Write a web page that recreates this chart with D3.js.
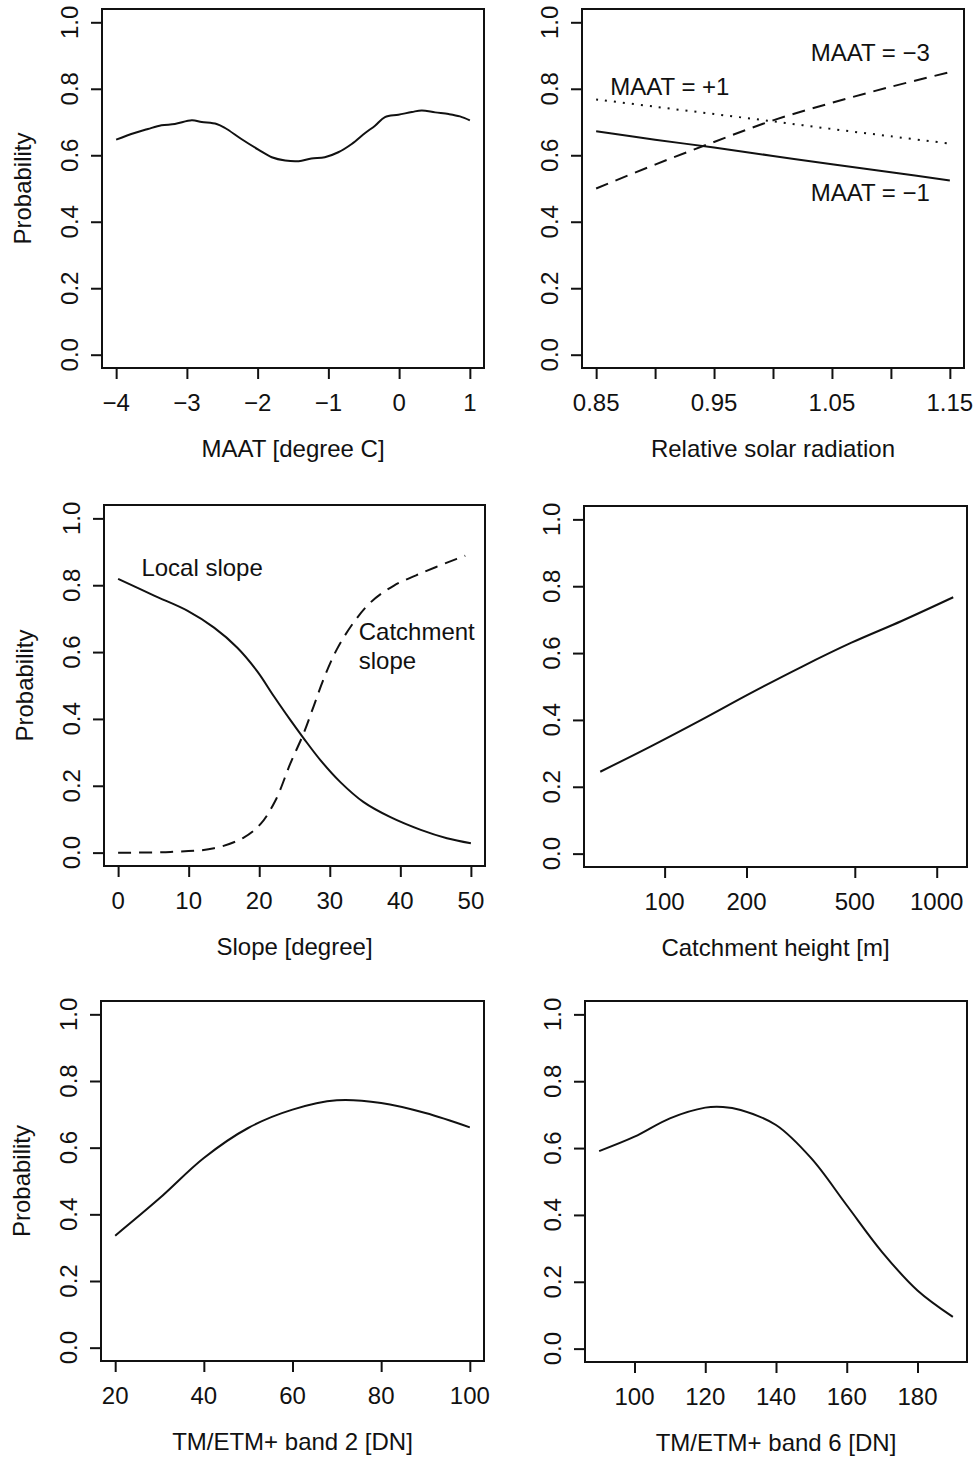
<!DOCTYPE html>
<html><head><meta charset="utf-8">
<script src="https://cdn.jsdelivr.net/npm/d3@7"></script>
<style>
html,body{margin:0;padding:0;background:#fff;}
svg text{font-family:"Liberation Sans",Arial,Helvetica,sans-serif;fill:#111;}
</style></head>
<body>
<svg id="chart" width="976" height="1458"></svg>
<script>
// ---------- data ----------
const yTicks = [0, 0.2, 0.4, 0.6, 0.8, 1.0];
const yTickLabels = ["0.0", "0.2", "0.4", "0.6", "0.8", "1.0"];

// Panel 1: MAAT
const maatX = [-4.00,-3.74,-3.55,-3.36,-3.17,-2.93,-2.79,-2.58,-2.46,-2.23,-1.99,-1.80,-1.61,-1.42,-1.24,-1.05,-0.86,-0.67,-0.48,-0.34,-0.20,-0.01,0.18,0.32,0.51,0.70,0.86,1.00];
const maatP = [0.647,0.667,0.679,0.690,0.694,0.705,0.700,0.694,0.682,0.649,0.617,0.594,0.584,0.582,0.590,0.594,0.609,0.634,0.667,0.689,0.715,0.722,0.730,0.735,0.729,0.724,0.717,0.705];
const maatTicks = [-4, -3, -2, -1, 0, 1];
const maatTickLabels = ["\u22124", "\u22123", "\u22122", "\u22121", "0", "1"];

// Panel 2: relative solar radiation
const radX = [0.85, 0.90, 0.95, 1.00, 1.05, 1.10, 1.15];
const radMaatMinus1 = [0.672, 0.647, 0.623, 0.598, 0.573, 0.549, 0.524];
const radMaatMinus3 = [0.500, 0.572, 0.640, 0.705, 0.758, 0.806, 0.850];
const radMaatPlus1  = [0.768, 0.746, 0.724, 0.702, 0.679, 0.657, 0.635];
const radTicks = [0.85, 0.90, 0.95, 1.00, 1.05, 1.10, 1.15];
const radTickLabels = ["0.85", "", "0.95", "", "1.05", "", "1.15"];

// Panel 3: slope
const localSlopeX = [0, 5.1, 9.8, 13.6, 16.9, 19.7, 22.1, 24.4, 26.3, 28.7, 31.5, 34.8, 38.6, 42.9, 46.6, 50];
const localSlopeP = [0.819, 0.769, 0.724, 0.673, 0.613, 0.543, 0.467, 0.397, 0.342, 0.276, 0.211, 0.151, 0.106, 0.068, 0.043, 0.028];
const catchSlopeX = [0, 7.4, 13.6, 17.8, 20.2, 22.3, 24.4, 26.3, 27.7, 29.1, 31.0, 33.4, 35.8, 39.1, 43.3, 48.0, 49.2];
const catchSlopeP = [0.000, 0.002, 0.013, 0.045, 0.086, 0.156, 0.266, 0.357, 0.437, 0.518, 0.608, 0.689, 0.749, 0.799, 0.839, 0.879, 0.888];
const slopeTicks = [0, 10, 20, 30, 40, 50];
const slopeTickLabels = ["0", "10", "20", "30", "40", "50"];

// Panel 4: catchment height (log x)
const heightX = [58, 89, 137, 208, 319, 486, 743, 1150];
const heightP = [0.245, 0.321, 0.401, 0.481, 0.559, 0.631, 0.696, 0.767];
const heightTicks = [100, 200, 500, 1000];
const heightTickLabels = ["100", "200", "500", "1000"];

// Panel 5: band 2
const band2X = [20, 30, 40, 50, 60, 70, 80, 90, 100];
const band2P = [0.336, 0.448, 0.569, 0.659, 0.714, 0.742, 0.734, 0.704, 0.661];
const band2Ticks = [20, 40, 60, 80, 100];
const band2TickLabels = ["20", "40", "60", "80", "100"];

// Panel 6: band 6
const band6X = [90, 100, 110, 120, 125, 130, 140, 150, 160, 170, 180, 190];
const band6P = [0.591, 0.634, 0.689, 0.721, 0.723, 0.714, 0.669, 0.569, 0.429, 0.289, 0.174, 0.095];
const band6Ticks = [100, 120, 140, 160, 180];
const band6TickLabels = ["100", "120", "140", "160", "180"];

// ---------- layout ----------
const FS = 24;
const svg = d3.select("#chart");
svg.append("rect").attr("width", 976).attr("height", 1458).attr("fill", "#fff");

const panels = [
  {box:[102, 9, 484, 368], xlab:"MAAT [degree C]", ylab:true, log:false,
   xdom:[-4, 1], ticks:maatTicks, tlabels:maatTickLabels,
   series:[{x:maatX, y:maatP, dash:null}], notes:[]},
  {box:[582, 9, 964, 368], xlab:"Relative solar radiation", ylab:false, log:false,
   xdom:[0.85, 1.15], ticks:radTicks, tlabels:radTickLabels,
   series:[{x:radX, y:radMaatMinus1, dash:null},
           {x:radX, y:radMaatMinus3, dash:"13,8"},
           {x:radX, y:radMaatPlus1, dash:"2,7"}],
   notes:[{t:"MAAT = \u22123", x:1.032, y:0.908},
          {t:"MAAT = +1", x:0.862, y:0.806},
          {t:"MAAT = \u22121", x:1.032, y:0.487}]},
  {box:[104, 505, 485, 866], xlab:"Slope [degree]", ylab:true, log:false,
   xdom:[0, 50], ticks:slopeTicks, tlabels:slopeTickLabels,
   series:[{x:localSlopeX, y:localSlopeP, dash:null},
           {x:catchSlopeX, y:catchSlopeP, dash:"13,8"}],
   notes:[{t:"Local slope", x:3.3, y:0.854},
          {t:"Catchment", x:34.1, y:0.663},
          {t:"slope", x:34.1, y:0.576}]},
  {box:[584, 506, 967, 867], xlab:"Catchment height [m]", ylab:false, log:true,
   xdom:[57, 1146], ticks:heightTicks, tlabels:heightTickLabels,
   series:[{x:heightX, y:heightP, dash:null}], notes:[]},
  {box:[101, 1001, 484, 1361], xlab:"TM/ETM+ band 2 [DN]", ylab:true, log:false,
   xdom:[20, 100], ticks:band2Ticks, tlabels:band2TickLabels,
   series:[{x:band2X, y:band2P, dash:null}], notes:[]},
  {box:[585, 1001, 967, 1362], xlab:"TM/ETM+ band 6 [DN]", ylab:false, log:false,
   xdom:[90, 190], ticks:band6Ticks, tlabels:band6TickLabels,
   series:[{x:band6X, y:band6P, dash:null}], notes:[]}
];

const TICK = 11;

panels.forEach(p => {
  const [L, T, R, B] = p.box;
  const g = svg.append("g");
  let x;
  if (p.log) {
    const l0 = Math.log10(p.xdom[0]), l1 = Math.log10(p.xdom[1]);
    const pad = 0.04 * (l1 - l0);
    x = d3.scaleLog().domain([Math.pow(10, l0 - pad), Math.pow(10, l1 + pad)]).range([L, R]);
  } else {
    const pad = 0.04 * (p.xdom[1] - p.xdom[0]);
    x = d3.scaleLinear().domain([p.xdom[0] - pad, p.xdom[1] + pad]).range([L, R]);
  }
  const y = d3.scaleLinear().domain([-0.04, 1.04]).range([B, T]);

  const line = d3.line().x(d => x(d[0])).y(d => y(d[1])).curve(d3.curveCatmullRom.alpha(0.5));
  p.series.forEach(s => {
    const pts = s.x.map((v, i) => [v, s.y[i]]);
    g.append("path").attr("d", line(pts)).attr("fill", "none")
      .attr("stroke", "#111").attr("stroke-width", 2)
      .attr("stroke-dasharray", s.dash);
  });

  g.append("rect").attr("x", L).attr("y", T).attr("width", R - L).attr("height", B - T)
    .attr("fill", "none").attr("stroke", "#111").attr("stroke-width", 2);

  const yAxis = d3.axisLeft(y).tickValues(yTicks).tickSize(TICK).tickFormat("");
  const ya = g.append("g").attr("transform", `translate(${L},0)`).call(yAxis);
  ya.select(".domain").attr("d", `M0,${y(0)}V${y(1)}`).attr("stroke", "#111").attr("stroke-width", 2);
  ya.selectAll(".tick line").attr("stroke", "#111").attr("stroke-width", 2);
  yTicks.forEach((v, i) => {
    g.append("text").attr("transform", `translate(${L - 33},${y(v)}) rotate(-90)`)
      .attr("text-anchor", "middle").attr("dominant-baseline", "central")
      .attr("font-size", FS).text(yTickLabels[i]);
  });

  const xAxis = d3.axisBottom(x).tickValues(p.ticks).tickSize(TICK).tickFormat("");
  const xa = g.append("g").attr("transform", `translate(0,${B})`).call(xAxis);
  xa.select(".domain").attr("d", `M${x(p.ticks[0])},0H${x(p.ticks[p.ticks.length - 1])}`)
    .attr("stroke", "#111").attr("stroke-width", 2);
  xa.selectAll(".tick line").attr("stroke", "#111").attr("stroke-width", 2);
  p.ticks.forEach((v, i) => {
    if (!p.tlabels[i]) return;
    g.append("text").attr("x", x(v)).attr("y", B + 34)
      .attr("text-anchor", "middle").attr("dominant-baseline", "central")
      .attr("font-size", FS).text(p.tlabels[i]);
  });

  g.append("text").attr("x", (L + R) / 2).attr("y", B + 80)
    .attr("text-anchor", "middle").attr("dominant-baseline", "central")
    .attr("font-size", FS).text(p.xlab);
  if (p.ylab) {
    g.append("text").attr("transform", `translate(${L - 80},${(T + B) / 2}) rotate(-90)`)
      .attr("text-anchor", "middle").attr("dominant-baseline", "central")
      .attr("font-size", FS).text("Probability");
  }

  p.notes.forEach(n => {
    g.append("text").attr("x", x(n.x)).attr("y", y(n.y))
      .attr("dominant-baseline", "central").attr("font-size", FS).text(n.t);
  });
});
</script>
</body></html>
